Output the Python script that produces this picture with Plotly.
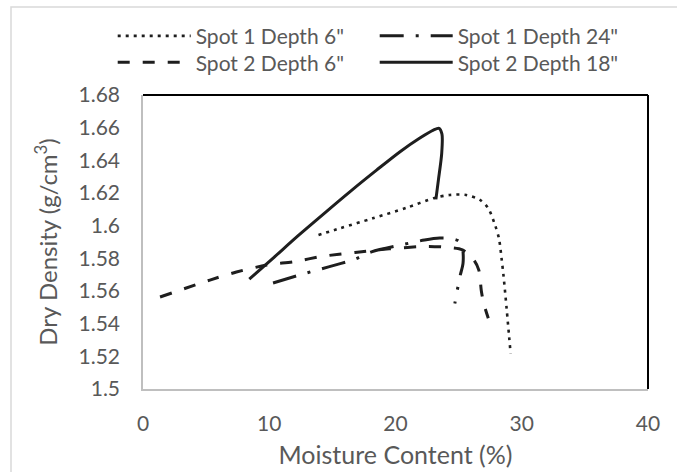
import plotly.graph_objects as go

# ---- data ----
s1_d6_x = [13.9, 15.6, 18.2, 20.9, 23.1, 24.3, 25.6, 26.7, 27.35, 27.9, 28.2, 28.4, 28.55, 28.8, 29.0, 29.12]
s1_d6_y = [1.5943, 1.5984, 1.6045, 1.6110, 1.6170, 1.6188, 1.6188, 1.6157, 1.6106, 1.6000, 1.5920, 1.5800, 1.5698, 1.5494, 1.5320, 1.5216]

s1_d24_x = [10.3, 12.4, 14.7, 16.8, 18.1, 21.1, 22.3, 23.5, 24.3, 25.0, 25.3, 25.35, 25.1, 24.7]
s1_d24_y = [1.5649, 1.5698, 1.5748, 1.5795, 1.5840, 1.5893, 1.5912, 1.5924, 1.5922, 1.5906, 1.5865, 1.5771, 1.5687, 1.5524]

s2_d6_x = [1.35, 5.3, 7.4, 9.8, 12.0, 14.2, 16.8, 19.5, 22.5, 24.3, 25.3, 26.2, 26.6, 26.8, 27.0, 27.35]
s2_d6_y = [1.5563, 1.5667, 1.5716, 1.5759, 1.5780, 1.5812, 1.5836, 1.5858, 1.5873, 1.5866, 1.5852, 1.5790, 1.5728, 1.5600, 1.5520, 1.5433]

s2_d18_x = [8.42, 10.4, 12.36, 14.5, 16.5, 18.5, 20.36, 21.9, 23.0, 23.45, 23.68, 23.66, 23.4, 23.2]
s2_d18_y = [1.5672, 1.5808, 1.5943, 1.6085, 1.6215, 1.6340, 1.6453, 1.6535, 1.6585, 1.6596, 1.6560, 1.6443, 1.6280, 1.6161]

names = ['Spot 1 Depth 6"', 'Spot 1 Depth 24"', 'Spot 2 Depth 6"', 'Spot 2 Depth 18"']

y_ticks = [1.5, 1.52, 1.54, 1.56, 1.58, 1.6, 1.62, 1.64, 1.66, 1.68]
y_tick_text = ["1.5", "1.52", "1.54", "1.56", "1.58", "1.6", "1.62", "1.64", "1.66", "1.68"]
x_ticks = [0, 10, 20, 30, 40]

FONT = "Lato"
GRAY = "#595959"
LINE = "#1e1e1e"

fig = go.Figure()
series = [
    (s1_d6_x, s1_d6_y, "3px,5px", 2.6, "legend"),
    (s1_d24_x, s1_d24_y, "24px,12px,3px,12px", 3, "legend"),
    (s2_d6_x, s2_d6_y, "12px,13px", 3, "legend2"),
    (s2_d18_x, s2_d18_y, "solid", 3, "legend2"),
]
for (xs, ys, dash, w, lg), nm in zip(series, names):
    fig.add_trace(go.Scatter(
        x=xs, y=ys, name=nm, mode="lines", legend=lg,
        line=dict(color=LINE, width=w, dash=dash, shape="spline", smoothing=0.8),
    ))

leg_common = dict(
    orientation="h", xanchor="left", yanchor="middle",
    entrywidth=174, entrywidthmode="pixels", itemwidth=73,
    font=dict(family=FONT, size=21, color=GRAY),
    bgcolor="rgba(0,0,0,0)", borderwidth=0,
)

fig.update_layout(
    width=677, height=472,
    margin=dict(l=143, r=29, t=95, b=83),
    paper_bgcolor="white", plot_bgcolor="white",
    font=dict(family=FONT, color=GRAY, size=21),
    showlegend=True,
    legend=dict(x=-0.060, y=1.200, **leg_common),
    legend2=dict(x=-0.060, y=1.110, **leg_common),
    xaxis=dict(
        range=[0, 40], tickvals=x_ticks, showgrid=False, zeroline=False,
        showline=True, linecolor="#BFBFBF", linewidth=1.5, automargin=False,
        ticks="outside", ticklen=15, tickcolor="rgba(0,0,0,0)",
        tickfont=dict(family=FONT, size=21, color=GRAY),
        title=dict(text="Moisture Content (%)", standoff=13,
                   font=dict(family=FONT, size=25, color=GRAY)),
    ),
    yaxis=dict(
        range=[1.5, 1.68], tickvals=y_ticks, ticktext=y_tick_text,
        showgrid=False, zeroline=False, automargin=False,
        showline=True, linecolor="#BFBFBF", linewidth=1.5,
        ticks="outside", ticklen=17, tickcolor="rgba(0,0,0,0)",
        tickfont=dict(family=FONT, size=21, color=GRAY),
        title=dict(text="Dry Density (g/cm<sup>3</sup>)", standoff=14,
                   font=dict(family=FONT, size=24, color=GRAY)),
    ),
    shapes=[
        dict(type="line", xref="paper", yref="paper", x0=0, x1=1, y0=1, y1=1,
             line=dict(color="black", width=2)),
        dict(type="line", xref="paper", yref="paper", x0=1, x1=1, y0=0, y1=1,
             line=dict(color="black", width=2)),
        dict(type="rect", xref="paper", yref="paper",
             x0=-0.2614, x1=1.07, y0=-0.30, y1=1.2993,
             line=dict(color="#D9D9D9", width=1.5), layer="below"),
    ],
)

fig.write_html("out.html")
